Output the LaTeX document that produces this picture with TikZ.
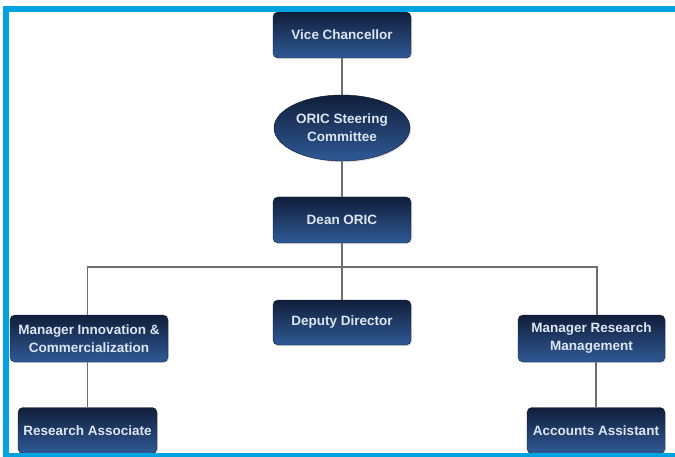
\documentclass[tikz,border=0pt]{standalone}
\usepackage{fontspec}
\setmainfont{Liberation Sans}
\usetikzlibrary{shapes.geometric,shadows}
\definecolor{bandblue}{HTML}{00A3E0}
\definecolor{boxtop}{HTML}{111E3A}
\definecolor{boxbot}{HTML}{2F5A96}
\definecolor{boxtxt}{HTML}{DCE5F0}
\definecolor{wire}{HTML}{6E6E6E}
\tikzset{
  orgbox/.style={rectangle, rounded corners=5pt, top color=boxtop, bottom color=boxbot,
    draw=boxtop!80!black, line width=0.4pt, text=boxtxt, align=center,
    font=\fontsize{13.5}{18}\selectfont\bfseries, inner sep=2pt,
    drop shadow={opacity=0.25, shadow xshift=1.2pt, shadow yshift=-1.2pt}},
  orgell/.style={ellipse, top color=boxtop, bottom color=boxbot,
    draw=boxtop!80!black, line width=0.4pt, text=boxtxt, align=center,
    font=\fontsize{13.5}{18}\selectfont\bfseries, inner sep=0pt,
    drop shadow={opacity=0.25, shadow xshift=1.2pt, shadow yshift=-1.2pt}},
  wireline/.style={draw=wire, line width=1.1pt}
}
\begin{document}
\begin{tikzpicture}[x=1pt,y=-1pt]
\useasboundingbox (0,0) rectangle (675,457);
\fill[white] (0,0) rectangle (675,457);
% nodes
\node[orgbox, minimum width=138pt, minimum height=46pt] (vc) at (342,35) {Vice Chancellor};
\node[orgell, minimum width=136pt, minimum height=66pt] (osc) at (342,128) {ORIC Steering\\Committee};
\node[orgbox, minimum width=138pt, minimum height=46pt] (dean) at (342,220) {Dean ORIC};
\node[orgbox, minimum width=138pt, minimum height=45pt] (dep) at (342,322.5) {Deputy Director};
\node[orgbox, minimum width=158pt, minimum height=47pt] (mic) at (89,338.5) {Manager Innovation \&\\Commercialization};
\node[orgbox, minimum width=147pt, minimum height=47pt] (mrm) at (591.5,338.5) {Manager Research\\Management};
\node[orgbox, minimum width=139pt, minimum height=46pt] (ra) at (87.5,430.5) {Research Associate};
\node[orgbox, minimum width=138pt, minimum height=46pt] (aa) at (596,430.5) {Accounts Assistant};
% connectors
\coordinate (barL) at (87.5,267);
\coordinate (barR) at (597,267);
\draw[wireline] (vc.south) -- (osc.north);
\draw[wireline] (osc.south) -- (dean.north);
\draw[wireline] (dean.south) -- (dep.north);
\draw[wireline] (barL |- mic.north) -- (barL) -- (barR) -- (barR |- mrm.north);
\draw[wireline] (mic.south -| ra.north) -- (ra.north);
\draw[wireline] (mrm.south -| aa.north) -- (aa.north);
% frame bands (open on the right)
\fill[white] (667,12) rectangle (675,453);
\fill[bandblue] (3,6) rectangle (675,12);
\fill[bandblue] (3,6) rectangle (8.5,457);
\fill[bandblue] (3,453) rectangle (675,457);
\end{tikzpicture}
\end{document}
